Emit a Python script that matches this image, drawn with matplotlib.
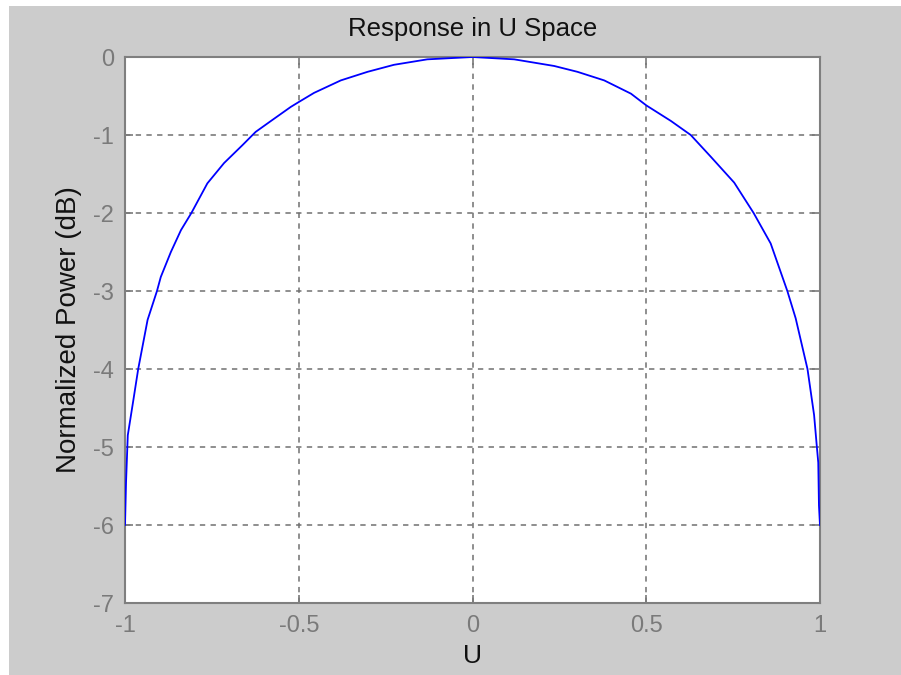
import matplotlib
matplotlib.use("Agg")
import matplotlib.pyplot as plt
from matplotlib.patches import Rectangle

# values
u_values = [-1.0, -0.997, -0.992, -0.976, -0.962, -0.935, -0.908, -0.897,
            -0.868, -0.839, -0.809, -0.763, -0.715, -0.662, -0.624, -0.580,
            -0.523, -0.501, -0.456, -0.379, -0.302, -0.226, -0.130, 0.0,
            0.120, 0.235, 0.302, 0.379, 0.456, 0.500, 0.571, 0.628, 0.686,
            0.753, 0.809, 0.858, 0.906, 0.930, 0.964, 0.983, 0.991, 0.995,
            0.997, 1.0]
power_db = [-6.0, -5.45, -4.85, -4.40, -4.0, -3.37, -3.0, -2.82,
            -2.50, -2.22, -2.0, -1.62, -1.36, -1.13, -0.96, -0.82,
            -0.64, -0.58, -0.46, -0.30, -0.19, -0.10, -0.03, 0.0,
            -0.03, -0.115, -0.19, -0.30, -0.47, -0.62, -0.82, -1.0, -1.28,
            -1.61, -2.0, -2.39, -3.0, -3.35, -4.0, -4.59, -5.0, -5.2,
            -5.75, -6.0]
x_ticks = [-1, -0.5, 0, 0.5, 1]
x_tick_labels = ["-1", "-0.5", "0", "0.5", "1"]
y_ticks = [0, -1, -2, -3, -4, -5, -6, -7]

plt.rcParams['font.family'] = ['Liberation Sans', 'DejaVu Sans']

fig = plt.figure(figsize=(9.01, 6.75), dpi=100)
fig.patch.set_facecolor('white')
# gray MATLAB figure area (small white margin on left and top)
fig.patches.append(Rectangle((9 / 901, 0), 1, 1 - 6 / 675, transform=fig.transFigure,
                             facecolor='#cccccc', edgecolor='none', zorder=-10))

ax = fig.add_axes([125 / 901, (675 - 603) / 675, (820 - 125) / 901, (603 - 57) / 675])
ax.set_facecolor('white')
ax.plot(u_values, power_db, color='#0000ff', lw=1.3, zorder=3)

ax.set_xlim(-1, 1)
ax.set_ylim(-7, 0)
ax.set_xticks(x_ticks)
ax.set_xticklabels(x_tick_labels)
ax.set_yticks(y_ticks)
ax.set_yticklabels([str(t) for t in y_ticks])

ax.grid(True, color='#707070', linestyle=(0, (3.5, 3.5)), linewidth=1.1)
ax.tick_params(direction='in', length=6, width=1.2, colors='#7a7a7a',
               labelsize=17, top=True, right=True)
ax.tick_params(axis='x', pad=9)
ax.tick_params(axis='y', pad=8)
for spine in ax.spines.values():
    spine.set_color('#7f7f7f')
    spine.set_linewidth(1.5)

ax.set_title("Response in U Space", fontsize=18.5, color='#111111', pad=15)
ax.set_xlabel("U", fontsize=19, color='#111111', labelpad=5)
ax.set_ylabel("Normalized Power (dB)", fontsize=20, color='#111111', labelpad=8)

fig.savefig("out.png", dpi=100, facecolor=fig.get_facecolor())
